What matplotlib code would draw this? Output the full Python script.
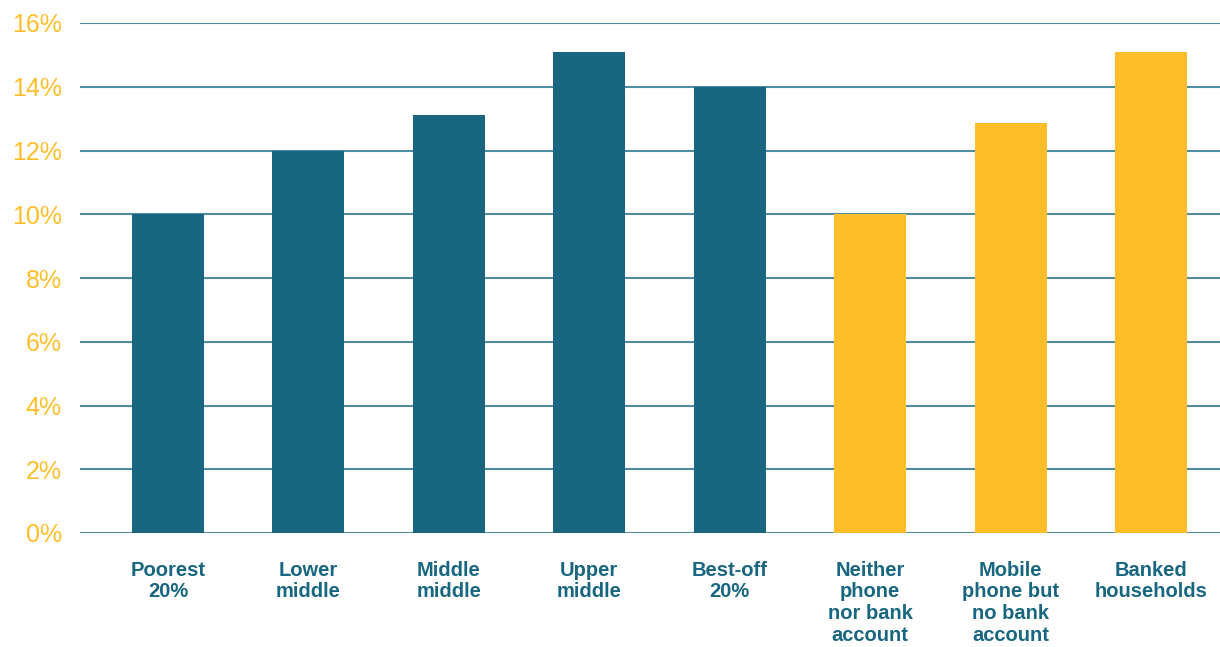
import matplotlib
matplotlib.use("Agg")
import matplotlib.pyplot as plt
import numpy as np

categories = ["Poorest\n20%", "Lower\nmiddle", "Middle\nmiddle", "Upper\nmiddle", "Best-off\n20%",
              "Neither\nphone\nnor bank\naccount", "Mobile\nphone but\nno bank\naccount", "Banked\nhouseholds"]
values = [10.0, 12.0, 13.1, 15.1, 14.0, 10.0, 12.85, 15.1]
groups = ["income"] * 5 + ["access"] * 3
yticks = [0, 2, 4, 6, 8, 10, 12, 14, 16]
ytick_labels = [f"{v}%" for v in yticks]

teal = "#186680"
gold = "#FDBE29"
grid_c = "#4F8CA2"
colors = [teal if g == "income" else gold for g in groups]

plt.rcParams['font.family'] = ['Liberation Sans', 'DejaVu Sans']
fig = plt.figure(figsize=(12.2, 6.47), dpi=100)
ax = fig.add_axes([80/1220, 1 - 533/647, (1220-80)/1220, (533-23)/647])

x = np.arange(len(categories))
for yv in yticks:
    ax.axhline(yv, color=grid_c, lw=1.5, zorder=1)
ax.bar(x, values, width=0.513, color=colors, zorder=2)

ax.set_xlim(-0.627, 7.491)
ax.set_ylim(0, 16)
ax.set_yticks(yticks)
ax.set_yticklabels(ytick_labels, fontsize=18, color=gold)
ax.tick_params(axis='y', length=0, pad=13)
ax.set_xticks(x)
ax.set_xticklabels(categories, fontsize=14.5, fontweight='bold', color=teal, linespacing=1.18, va='top')
ax.tick_params(axis='x', length=0, pad=20)
for s in ax.spines.values():
    s.set_visible(False)

fig.savefig("out.png", dpi=100)
